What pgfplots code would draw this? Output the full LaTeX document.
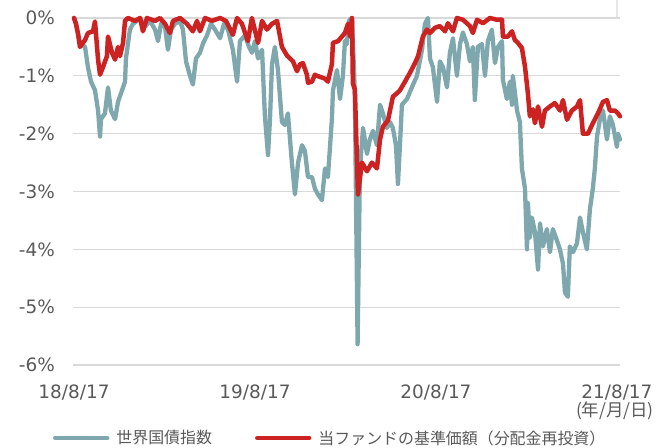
\documentclass[border=0pt]{standalone}
\usepackage{pgfplots}
\pgfplotsset{compat=1.18}
\usepackage{pgfplotstable}
\usepackage{fontspec}
\setmainfont{DejaVu Sans}
\newfontfamily\cjk{Noto Sans CJK JP}
\definecolor{teal1}{RGB}{127,168,174}
\definecolor{red1}{RGB}{204,34,34}
\definecolor{grid1}{RGB}{217,217,217}
\definecolor{text1}{RGB}{89,89,89}

\pgfplotstableread{
x y
0.000 0
0.011 -0.10
0.033 -0.43
0.061 -0.50
0.077 -0.85
0.094 -1.10
0.116 -1.25
0.133 -1.60
0.144 -2.05
0.149 -1.75
0.171 -1.65
0.188 -1.20
0.204 -1.60
0.227 -1.75
0.243 -1.45
0.260 -1.30
0.282 -1.10
0.287 -0.70
0.309 -0.20
0.326 -0.10
0.348 -0.05
0.365 0
0.392 -0.15
0.420 -0.05
0.448 -0.20
0.464 -0.40
0.481 -0.10
0.503 -0.15
0.519 -0.55
0.536 -0.20
0.558 -0.10
0.586 -0.05
0.602 -0.20
0.619 -0.75
0.641 -1.00
0.657 -1.15
0.674 -0.70
0.696 -0.60
0.713 -0.44
0.735 -0.30
0.757 -0.10
0.779 -0.20
0.807 -0.35
0.829 -0.10
0.851 -0.20
0.878 -0.55
0.901 -1.10
0.917 -0.40
0.945 -0.30
0.967 -0.50
0.983 -0.60
1.000 -0.40
1.017 -0.70
1.039 -0.55
1.055 -1.70
1.072 -2.37
1.083 -1.75
1.094 -0.80
1.110 -0.50
1.127 -0.90
1.149 -1.80
1.166 -1.85
1.182 -1.65
1.204 -2.50
1.221 -3.05
1.238 -2.50
1.260 -2.20
1.276 -2.30
1.293 -2.75
1.315 -2.75
1.331 -2.95
1.348 -3.05
1.370 -3.15
1.387 -2.60
1.403 -2.75
1.425 -1.75
1.431 -1.25
1.453 -0.90
1.470 -1.40
1.486 -1.00
1.497 -0.40
1.508 -0.45
1.519 -0.05
1.536 0
1.552 -1.30
1.567 -5.64
1.580 -2.60
1.597 -1.90
1.619 -2.35
1.635 -2.10
1.652 -1.95
1.674 -2.20
1.691 -1.50
1.707 -1.65
1.729 -1.90
1.746 -1.80
1.762 -1.90
1.779 -2.20
1.790 -2.87
1.801 -2.20
1.812 -1.50
1.840 -1.40
1.867 -1.20
1.895 -1.00
1.923 -0.55
1.939 -0.10
1.956 0
1.967 -0.70
1.983 -0.85
2.006 -1.45
2.022 -0.75
2.039 -0.85
2.061 -1.20
2.077 -0.60
2.094 -0.35
2.116 -1.00
2.133 -0.45
2.149 -0.25
2.171 -0.45
2.188 -0.75
2.204 -0.50
2.215 -1.42
2.232 -0.50
2.254 -0.45
2.271 -1.00
2.287 -0.40
2.309 -0.20
2.326 -0.78
2.343 -0.50
2.365 -0.40
2.370 -1.07
2.392 -1.40
2.409 -1.10
2.420 -1.50
2.425 -1.00
2.448 -1.60
2.464 -1.80
2.475 -2.60
2.492 -2.95
2.503 -4.00
2.508 -3.20
2.519 -3.80
2.530 -3.45
2.547 -3.70
2.564 -4.35
2.575 -3.55
2.591 -3.95
2.613 -3.65
2.630 -4.05
2.646 -3.65
2.669 -3.85
2.685 -4.00
2.702 -4.25
2.713 -4.75
2.729 -4.82
2.740 -3.95
2.757 -4.05
2.779 -3.90
2.796 -3.45
2.812 -3.70
2.834 -4.00
2.851 -3.30
2.867 -2.95
2.878 -2.60
2.890 -2.05
2.906 -1.75
2.923 -1.60
2.945 -2.10
2.961 -1.70
2.978 -1.85
3.000 -2.23
3.006 -2.00
3.017 -2.10
}\tealdata

\pgfplotstableread{
x y
0.000 0
0.011 -0.10
0.022 -0.27
0.033 -0.50
0.061 -0.38
0.077 -0.26
0.105 -0.23
0.116 -0.06
0.133 -0.72
0.144 -0.98
0.160 -0.85
0.182 -0.66
0.188 -0.32
0.210 -0.60
0.227 -0.72
0.243 -0.50
0.254 -0.66
0.271 -0.43
0.282 -0.05
0.298 0
0.337 -0.05
0.365 0
0.381 -0.23
0.403 0
0.448 -0.05
0.475 0
0.503 -0.10
0.530 -0.26
0.547 -0.05
0.586 0
0.624 -0.10
0.657 -0.23
0.680 -0.05
0.696 -0.23
0.724 0
0.762 -0.05
0.807 0
0.840 -0.05
0.878 -0.29
0.901 0
0.928 -0.10
0.961 -0.40
0.983 0
1.017 -0.43
1.039 -0.05
1.066 -0.20
1.094 -0.10
1.122 -0.05
1.149 -0.50
1.177 -0.65
1.210 -0.75
1.232 -0.92
1.249 -0.80
1.265 -0.78
1.287 -0.98
1.293 -1.12
1.315 -1.10
1.331 -0.98
1.343 -1.00
1.370 -1.03
1.387 -1.05
1.403 -1.10
1.414 -0.95
1.425 -0.80
1.431 -0.43
1.459 -0.40
1.486 -0.30
1.497 -0.26
1.514 -0.10
1.525 -0.32
1.536 0
1.541 -1.13
1.552 -1.24
1.569 -3.05
1.591 -2.50
1.619 -2.65
1.646 -2.50
1.674 -2.60
1.691 -2.10
1.707 -1.88
1.735 -1.77
1.762 -1.36
1.785 -1.30
1.801 -1.25
1.829 -1.10
1.856 -0.95
1.884 -0.78
1.901 -0.66
1.928 -0.32
1.950 -0.20
1.967 -0.26
1.994 -0.17
2.022 -0.14
2.050 -0.23
2.066 -0.09
2.094 -0.23
2.116 0
2.149 -0.03
2.188 -0.14
2.204 -0.26
2.227 -0.03
2.260 -0.09
2.298 0
2.337 -0.03
2.365 -0.03
2.370 -0.32
2.398 -0.32
2.420 -0.23
2.436 -0.38
2.453 -0.43
2.475 -0.52
2.492 -0.84
2.508 -1.30
2.519 -1.70
2.536 -1.58
2.547 -1.82
2.564 -1.53
2.586 -1.88
2.602 -1.60
2.630 -1.53
2.657 -1.47
2.685 -1.60
2.702 -1.42
2.724 -1.76
2.751 -1.60
2.779 -1.53
2.796 -1.42
2.812 -2.00
2.840 -2.00
2.867 -1.82
2.895 -1.65
2.923 -1.45
2.945 -1.42
2.961 -1.60
2.989 -1.60
3.006 -1.65
3.017 -1.70
}\reddata

\begin{document}
\begin{tikzpicture}
\path[use as bounding box] (-73bp,-83bp) rectangle (594bp,365bp);
\begin{axis}[
  scale only axis,
  width=547bp, height=347bp,
  at={(0,0)}, anchor=south west,
  xmin=-0.0055, xmax=3.017,
  ymin=-6, ymax=0,
  axis line style={draw=none},
  tick style={draw=none},
  ymajorgrids,
  grid style={grid1, line width=1.3bp},
  ytick={-6,-5,-4,-3,-2,-1,0},
  yticklabels={-6\%,-5\%,-4\%,-3\%,-2\%,-1\%,0\%},
  xtick={0,1,2,3},
  xticklabels={18/8/17,19/8/17,20/8/17,21/8/17},
  ticklabel style={text=text1, font=\fontsize{18.5}{22}\selectfont},
  yticklabel style={anchor=east, inner sep=0pt, xshift=-18bp},
  xticklabel style={anchor=north, inner sep=0pt, yshift=-20bp},
  clip=false,
  legend style={draw=none, fill=none, at={(-20bp,-73bp)}, anchor=west,
    legend columns=2, inner sep=0pt, outer sep=0pt,
    font=\cjk\fontsize{16}{20}\selectfont, text=text1,
    /tikz/every odd column/.append style={column sep=7bp},
    /tikz/every even column/.append style={column sep=43bp},
    nodes={inner sep=0pt, outer sep=0pt}},
  legend cell align=left,
  legend image code/.code={\draw[#1, line width=4.4bp] (0bp,0bp) -- (52bp,0bp);},
]
\draw[grid1, line width=1.3bp] (axis cs:3,0) -- ++(0,-5bp);
\addplot[teal1, line width=4.3bp, line join=round, line cap=round] table {\tealdata};
\addlegendentry{世界国債指数}
\addplot[red1, line width=4.5bp, line join=round, line cap=round] table {\reddata};
\addlegendentry{当ファンドの基準価額（分配金再投資）}
\node[anchor=north east, inner sep=0pt, text=text1, font=\cjk\fontsize{17.5}{20}\selectfont] at (581bp,-37bp) {(年/月/日)};
\end{axis}
\end{tikzpicture}
\end{document}
